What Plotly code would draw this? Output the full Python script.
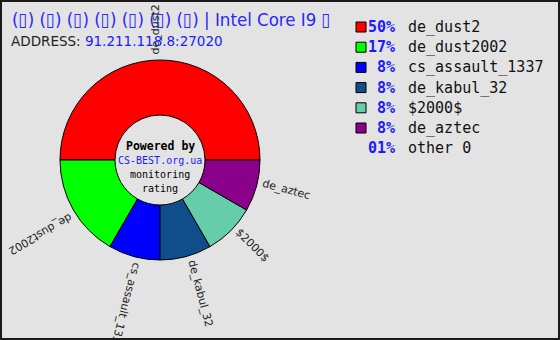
import math
import plotly.graph_objects as go

# ---- data ----
maps = ["de_dust2", "de_dust2002", "cs_assault_1337", "de_kabul_32", "$2000$", "de_aztec", "other 0"]
players = [6, 2, 1, 1, 1, 1, 0]
pct_labels = ["50%", "17%", "8%", "8%", "8%", "8%", "01%"]
colors = ["#ff0000", "#00ff00", "#0000ff", "#104e8b", "#66cdaa", "#8b008b", None]
title_text = "(▯) (▯) (▯) (▯) (▯) (▯) (▯) | Intel Core I9 ▯"
address_label = "ADDRESS:"
address_value = "91.211.118.8:27020"
center_lines = ["Powered by", "CS-BEST.org.ua", "monitoring", "rating"]

# ---- layout constants (pixels) ----
W, H = 560, 340
CX, CY, R = 160, 160, 100
HOLE = 0.45
BG = "#e3e3e3"
LABEL_SIZE = 11

def px(x):
    return x / W

def py(y):
    return 1 - y / H

# approx DejaVu Sans advance widths (em)
CW = {"d": .635, "e": .615, "_": .5, "u": .634, "s": .521, "t": .392, "c": .55,
      "a": .613, "l": .278, "k": .579, "b": .635, "z": .525, "$": .636, "o": .612,
      "h": .634, "r": .411, " ": .318}

def text_len(s, size):
    return sum(CW.get(ch, .636) for ch in s) * size

fig = go.Figure()

pie_idx = [i for i, v in enumerate(players) if v > 0]
fig.add_trace(go.Pie(
    labels=[maps[i] for i in pie_idx],
    values=[players[i] for i in pie_idx],
    marker=dict(colors=[colors[i] for i in pie_idx], line=dict(color="#000000", width=1)),
    hole=HOLE,
    sort=False,
    direction="counterclockwise",
    rotation=270,
    textinfo="none",
    hoverinfo="label+value+percent",
    showlegend=False,
    domain=dict(x=[px(CX - R), px(CX + R)], y=[py(CY + R), py(CY - R)]),
))

annotations = []
shapes = []

# title and address
annotations.append(dict(
    x=px(10), y=py(19), xref="paper", yref="paper", xanchor="left", yanchor="middle",
    text=title_text, showarrow=False,
    font=dict(family="Liberation Sans Narrow, DejaVu Sans Condensed, sans-serif", size=18.5, color="#2828ff"),
))
annotations.append(dict(
    x=px(9), y=py(41), xref="paper", yref="paper", xanchor="left", yanchor="middle",
    text=address_label + " <span style='color:#2020ff'>" + address_value + "</span>",
    showarrow=False,
    font=dict(family="DejaVu Sans", size=13.5, color="#222222"),
))

# radial slice labels
total = sum(players)
cum = 0
R0 = R + 5
for i, v in enumerate(players):
    if v <= 0:
        cum += v
        continue
    theta = 360.0 * (cum + v / 2) / total
    cum += v
    t = math.radians(theta)
    dx, dy = math.cos(t), -math.sin(t)
    ux, uy = -math.sin(t), -math.cos(t)
    L = text_len(maps[i], LABEL_SIZE)
    off = 4.5
    x = CX + (R0 + L / 2) * dx + off * ux
    y = CY + (R0 + L / 2) * dy + off * uy
    ang = -theta
    while ang <= -180:
        ang += 360
    while ang > 180:
        ang -= 360
    annotations.append(dict(
        x=px(x), y=py(y), xref="paper", yref="paper", xanchor="center", yanchor="middle",
        text=maps[i], textangle=ang, showarrow=False,
        font=dict(family="DejaVu Sans", size=LABEL_SIZE, color="#222222"),
    ))

# center text
center_y = [146, 160, 174, 188]
center_styles = [
    dict(family="DejaVu Sans Mono", size=11.5, color="#000000", weight="bold"),
    dict(family="DejaVu Sans Mono", size=10, color="#1a1aff"),
    dict(family="DejaVu Sans Mono", size=10, color="#000000"),
    dict(family="DejaVu Sans Mono", size=10, color="#000000"),
]
for s, yy, st in zip(center_lines, center_y, center_styles):
    txt = "<b>" + s + "</b>" if st.get("weight") == "bold" else s
    f = {k: v for k, v in st.items() if k != "weight"}
    annotations.append(dict(
        x=px(CX), y=py(yy), xref="paper", yref="paper", xanchor="center", yanchor="middle",
        text=txt, showarrow=False, font=f,
    ))

# legend
LEG_Y0, LEG_STEP = 27, 20.2
for i, (name, pl, c) in enumerate(zip(maps, pct_labels, colors)):
    yy = LEG_Y0 + i * LEG_STEP
    if c is not None:
        shapes.append(dict(
            type="rect", xref="paper", yref="paper",
            x0=px(356), x1=px(366), y0=py(yy + 5), y1=py(yy - 5),
            fillcolor=c, line=dict(color="#000000", width=1),
        ))
    annotations.append(dict(
        x=px(397), y=py(yy), xref="paper", yref="paper", xanchor="right", yanchor="middle",
        text="<b>" + pl + "</b>", showarrow=False,
        font=dict(family="DejaVu Sans Mono", size=15, color="#1a1aff"),
    ))
    annotations.append(dict(
        x=px(406), y=py(yy), xref="paper", yref="paper", xanchor="left", yanchor="middle",
        text=name, showarrow=False,
        font=dict(family="DejaVu Sans Mono", size=15, color="#111111"),
    ))

# frame
shapes.append(dict(
    type="rect", xref="paper", yref="paper",
    x0=px(1), x1=px(W - 1), y0=py(H - 1), y1=py(1),
    line=dict(color="#1a1a1a", width=2), fillcolor="rgba(0,0,0,0)", layer="above",
))

fig.update_layout(
    width=W, height=H,
    margin=dict(l=0, r=0, t=0, b=0),
    paper_bgcolor=BG, plot_bgcolor=BG,
    annotations=annotations, shapes=shapes,
)

fig.write_html("out.html", config={"displayModeBar": False})
